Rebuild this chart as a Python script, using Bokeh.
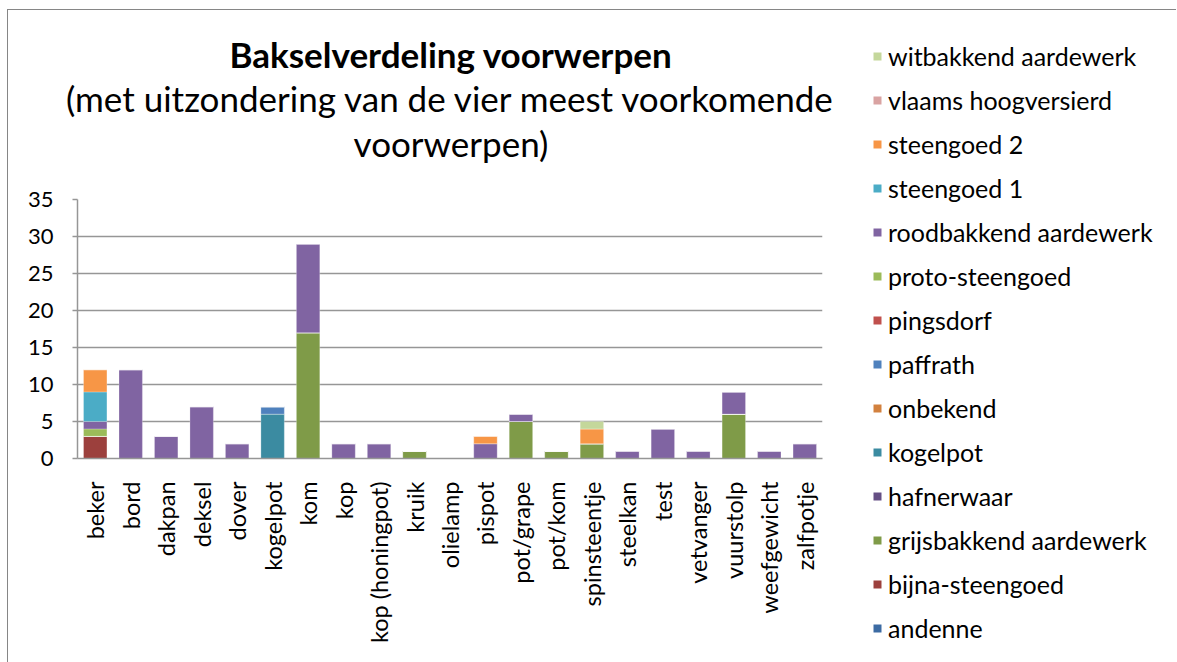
import math
from bokeh.plotting import figure
from bokeh.layouts import row, column
from bokeh.models import Range1d, FixedTicker, Legend, LegendItem, Label, ColumnDataSource
from bokeh.embed import file_html
from bokeh.resources import INLINE

categories = ["beker", "bord", "dakpan", "deksel", "dover", "kogelpot", "kom", "kop",
              "kop (honingpot)", "kruik", "olielamp", "pispot", "pot/grape", "pot/kom",
              "spinsteentje", "steelkan", "test", "vetvanger", "vuurstolp", "weefgewicht",
              "zalfpotje"]

series_names = ["andenne", "bijna-steengoed", "grijsbakkend aardewerk", "hafnerwaar",
                "kogelpot", "onbekend", "paffrath", "pingsdorf", "proto-steengoed",
                "roodbakkend aardewerk", "steengoed 1", "steengoed 2", "vlaams hoogversierd",
                "witbakkend aardewerk"]

andenne          = [0, 0, 0, 0, 0, 0, 0, 0, 0, 0, 0, 0, 0, 0, 0, 0, 0, 0, 0, 0, 0]
bijna_steengoed  = [3, 0, 0, 0, 0, 0, 0, 0, 0, 0, 0, 0, 0, 0, 0, 0, 0, 0, 0, 0, 0]
grijsbakkend     = [0, 0, 0, 0, 0, 0, 17, 0, 0, 1, 0, 0, 5, 1, 2, 0, 0, 0, 6, 0, 0]
hafnerwaar       = [0, 0, 0, 0, 0, 0, 0, 0, 0, 0, 0, 0, 0, 0, 0, 0, 0, 0, 0, 0, 0]
kogelpot         = [0, 0, 0, 0, 0, 6, 0, 0, 0, 0, 0, 0, 0, 0, 0, 0, 0, 0, 0, 0, 0]
onbekend         = [0, 0, 0, 0, 0, 0, 0, 0, 0, 0, 0, 0, 0, 0, 0, 0, 0, 0, 0, 0, 0]
paffrath         = [0, 0, 0, 0, 0, 1, 0, 0, 0, 0, 0, 0, 0, 0, 0, 0, 0, 0, 0, 0, 0]
pingsdorf        = [0, 0, 0, 0, 0, 0, 0, 0, 0, 0, 0, 0, 0, 0, 0, 0, 0, 0, 0, 0, 0]
proto_steengoed  = [1, 0, 0, 0, 0, 0, 0, 0, 0, 0, 0, 0, 0, 0, 0, 0, 0, 0, 0, 0, 0]
roodbakkend      = [1, 12, 3, 7, 2, 0, 12, 2, 2, 0, 0, 2, 1, 0, 0, 1, 4, 1, 3, 1, 2]
steengoed_1      = [4, 0, 0, 0, 0, 0, 0, 0, 0, 0, 0, 0, 0, 0, 0, 0, 0, 0, 0, 0, 0]
steengoed_2      = [3, 0, 0, 0, 0, 0, 0, 0, 0, 0, 0, 1, 0, 0, 2, 0, 0, 0, 0, 0, 0]
vlaams           = [0, 0, 0, 0, 0, 0, 0, 0, 0, 0, 0, 0, 0, 0, 0, 0, 0, 0, 0, 0, 0]
witbakkend       = [0, 0, 0, 0, 0, 0, 0, 0, 0, 0, 0, 0, 0, 0, 1, 0, 0, 0, 0, 0, 0]

series_values = [andenne, bijna_steengoed, grijsbakkend, hafnerwaar, kogelpot, onbekend,
                 paffrath, pingsdorf, proto_steengoed, roodbakkend, steengoed_1,
                 steengoed_2, vlaams, witbakkend]

colors = ["#3C6BA3", "#9C403D", "#7F9B48", "#654F84", "#3B8BA1", "#D2813E",
          "#4F81BD", "#C0504D", "#9BBB59", "#8064A2", "#4BACC6", "#F79646",
          "#D9A3A2", "#C4D79B"]

y_ticks = [0, 5, 10, 15, 20, 25, 30, 35]

title_lines = ["Bakselverdeling voorwerpen",
               "(met uitzondering van de vier meest voorkomende",
               "voorwerpen)"]

FONT = "Lato"
GRID = "#969696"

# ---- layout sizes (px)
LW = 840            # width of left column (title + chart)
TH = 170            # height of title strip
MH = 482            # height of chart
RW = 328            # width of legend strip
RH = TH + MH

# ---- title strip
t = figure(width=LW, height=TH, x_range=Range1d(0, LW), y_range=Range1d(0, TH),
           output_backend="svg", toolbar_location=None,
           x_axis_location=None, y_axis_location=None,
           min_border=0, min_border_left=0, min_border_right=0,
           min_border_top=0, min_border_bottom=0)
t.frame_align = False
t.outline_line_color = None
t.xgrid.grid_line_color = None
t.ygrid.grid_line_color = None
cx = 442.5
for txt, yy, style in [(title_lines[0], 127, "bold"),
                       (title_lines[1], 83, "normal"),
                       (title_lines[2], 38, "normal")]:
    t.add_layout(Label(x=cx, y=yy, text=txt, text_align="center",
                       text_baseline="alphabetic", text_font=FONT,
                       text_font_style=style, text_font_size="35px",
                       text_color="black"))

# ---- main chart
keys = ["s%d" % i for i in range(len(series_names))]
data = {"cat": categories}
for k, vals in zip(keys, series_values):
    data[k] = vals
source = ColumnDataSource(data)

p = figure(x_range=categories, width=LW, height=MH,
           output_backend="svg", toolbar_location=None,
           min_border_left=69, min_border_right=26,
           min_border_top=19, min_border_bottom=204)
p.frame_align = False
p.y_range = Range1d(0, 35)
p.outline_line_color = None
p.background_fill_color = "white"
p.border_fill_color = "white"

renderers = p.vbar_stack(keys, x="cat", width=0.66, color=colors, source=source,
                         line_color="white", line_alpha=0.25, line_width=1)

p.xgrid.grid_line_color = None
p.ygrid.grid_line_color = GRID
p.ygrid.grid_line_width = 1.5
p.yaxis.ticker = FixedTicker(ticks=y_ticks)
p.yaxis.minor_tick_line_color = None
p.yaxis.major_tick_out = 5
p.yaxis.major_tick_in = 0
p.yaxis.major_tick_line_color = GRID
p.yaxis.major_tick_line_width = 1.5
p.yaxis.axis_line_color = GRID
p.yaxis.axis_line_width = 1.5
p.yaxis.major_label_standoff = 19
p.yaxis.major_label_text_font = FONT
p.yaxis.major_label_text_font_size = "22px"
p.yaxis.major_label_text_color = "black"

p.xaxis.axis_line_color = GRID
p.xaxis.axis_line_width = 1.5
p.xaxis.major_tick_line_color = None
p.xaxis.minor_tick_line_color = None
p.xaxis.major_label_orientation = math.pi / 2
p.xaxis.major_label_standoff = 17
p.xaxis.major_label_text_font = FONT
p.xaxis.major_label_text_font_size = "23.5px"
p.xaxis.major_label_text_color = "black"

# ---- legend strip
lg = figure(width=RW, height=RH, x_range=Range1d(0, 1), y_range=Range1d(0, 1),
            output_backend="svg", toolbar_location=None,
            x_axis_location=None, y_axis_location=None,
            min_border=0, min_border_left=0, min_border_right=0,
            min_border_top=0, min_border_bottom=0)
lg.frame_align = False
lg.outline_line_color = None
lg.xgrid.grid_line_color = None
lg.ygrid.grid_line_color = None
proxies = [lg.vbar(x=[0.5], top=[0], bottom=[0], width=0.0, fill_color=c, line_color=None)
           for c in colors]
items = [LegendItem(label=name, renderers=[r]) for name, r in zip(series_names, proxies)]
items = items[::-1]
legend = Legend(items=items, location=(24, 18), orientation="vertical",
                glyph_width=10, glyph_height=10, label_height=32, spacing=12,
                label_standoff=6, padding=0, margin=0, border_line_color=None,
                background_fill_alpha=0, label_text_font=FONT,
                label_text_font_size="25px", label_text_color="black")
lg.add_layout(legend, "center")

layout = row(column(t, p, spacing=0), lg, spacing=0)
layout.styles = {"margin-left": "7px", "margin-top": "9px",
                 "border-left": "1px solid #868686", "border-top": "1px solid #868686"}

open("out.html", "w").write(file_html(layout, INLINE))
